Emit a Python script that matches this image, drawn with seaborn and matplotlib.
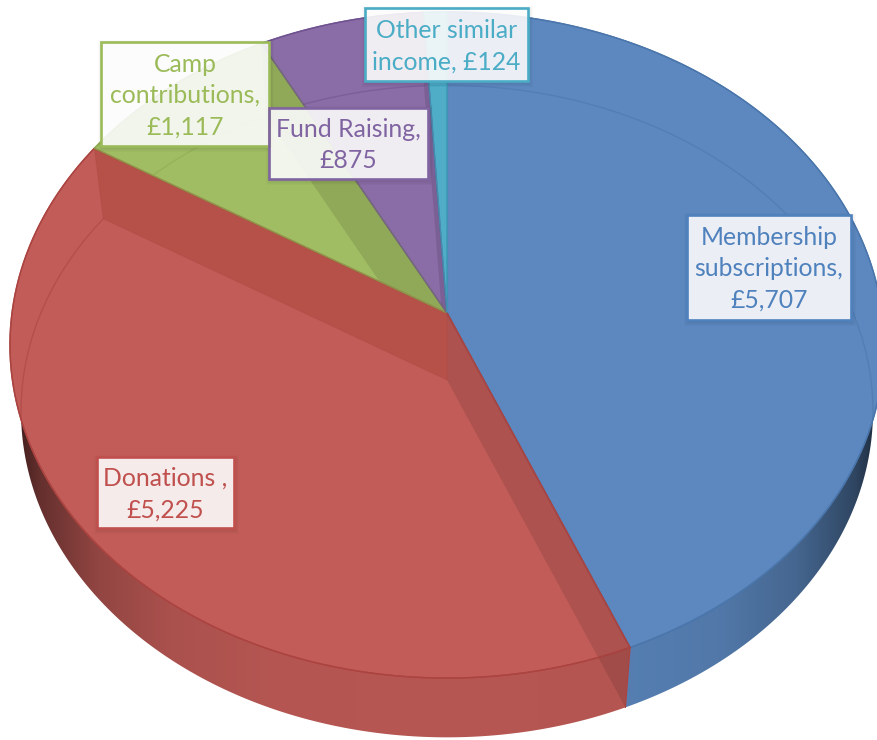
import numpy as np
import matplotlib
matplotlib.use("Agg")
import matplotlib.pyplot as plt
from matplotlib.patches import Polygon, Rectangle
from matplotlib.colors import to_rgb
import seaborn as sns

# data
categories = ["Membership subscriptions", "Donations", "Camp contributions", "Fund Raising", "Other similar income"]
values = [5707, 5225, 1117, 875, 124]
label_texts = ["Membership\nsubscriptions,\n£5,707", "Donations ,\n£5,225", "Camp\ncontributions,\n£1,117",
               "Fund Raising,\n£875", "Other similar\nincome, £124"]
colors = ["#5c88bf", "#c25c58", "#a0bd63", "#8a6ca6", "#4fadc8"]
edge_colors = ["#4a76ab", "#ab4441", "#8dab50", "#6f5290", "#3f9bb8"]
text_colors = ["#4f81bd", "#c0504d", "#9bbb59", "#8064a2", "#4bacc6"]


# top face and bottom face of the tilted disc
def project(theta, face="top"):
    u, v = np.sin(theta), np.cos(theta)
    w = 1 + 0.0961 * v
    if face == "top":
        return 447 + 435 * u / w, 313 - 330 * v / w
    return 447 + 424 * u / w, 380 - 323 * v / w


def arc(t0, t1, face="top", n=200):
    t = np.linspace(t0, t1, n)
    x, y = project(t, face)
    return np.column_stack([x, y])


def wall_shade(x):
    d = np.abs(x - 447) / 437
    return np.interp(d, [0, 0.4, 0.63, 0.8, 0.93, 1.0], [0.94, 0.93, 0.88, 0.75, 0.52, 0.27])


sns.set_theme(style="white")
plt.rcParams["font.family"] = ["Lato", "DejaVu Sans"]

fig = plt.figure(figsize=(8.78, 7.4), dpi=100)
ax = fig.add_axes([0, 0, 1, 1])

fractions = np.array(values) / sum(values)
edges = np.concatenate([[0], np.cumsum(fractions)]) * 2 * np.pi
apex_top = [447, 313]
apex_bottom = [447, 380]

# side wall with a horizontal gradient
xs = np.arange(0, 878) + 0.5
for i, col in enumerate(colors[:2]):
    grad = np.outer(wall_shade(xs), np.array(to_rgb(col)))[np.newaxis, :, :]
    img = ax.imshow(grad, extent=(0, 878, 740, 0), aspect="auto", zorder=1, interpolation="bilinear")
    wall = Polygon(np.vstack([arc(edges[i], edges[i + 1]), arc(edges[i], edges[i + 1], "bottom")[::-1]]),
                   closed=True, transform=ax.transData, facecolor="none", edgecolor="none")
    ax.add_patch(wall)
    img.set_clip_path(wall)

ax.set_xlim(0, 878)
ax.set_ylim(740, 0)
ax.axis("off")

# top faces
faces = []
for i, col in enumerate(colors):
    pts = np.vstack([[apex_top], arc(edges[i], edges[i + 1])])
    face = Polygon(pts, closed=True, facecolor=col, edgecolor=edge_colors[i], linewidth=1, zorder=2)
    ax.add_patch(face)
    faces.append(face)

# cut faces seen through the translucent slices
red_start = Polygon([apex_top, project(edges[1]), project(edges[1], "bottom"), apex_bottom], closed=True,
                    facecolor="#000000", alpha=0.1, edgecolor="none", zorder=3)
ax.add_patch(red_start)

for i in [2, 3]:
    quad = Polygon([apex_top, project(edges[i + 1]), project(edges[i + 1], "bottom"), apex_bottom], closed=True,
                   facecolor="#000000", alpha=0.1, edgecolor="none", zorder=3)
    ax.add_patch(quad)
    quad.set_clip_path(faces[i])

quad = Polygon([apex_top, project(edges[2]), project(edges[2], "bottom"), apex_bottom], closed=True,
               facecolor="#8a2a10", alpha=0.22, edgecolor="#a8423a", linewidth=0.8, zorder=3)
ax.add_patch(quad)
quad.set_clip_path(faces[1])

# wedge edges and the faint far rim
for i, col in enumerate(edge_colors):
    pts = arc(edges[i], edges[i + 1], "bottom")
    rim, = ax.plot(pts[:, 0], pts[:, 1], color=col, lw=1, alpha=0.55, zorder=4)
    rim.set_clip_path(faces[i])
    top = arc(edges[i], edges[i + 1])
    ax.plot(top[:, 0], top[:, 1], color=col, lw=1, alpha=0.9, zorder=4)
    for t in (edges[i], edges[i + 1]):
        x, y = project(t)
        ax.plot([447, x], [313, y], color=col, lw=0.8, alpha=0.7, zorder=4)
x0, y0 = project(edges[1])
x1, y1 = project(edges[1], "bottom")
ax.plot([x0, x1], [y0, y1], color=edge_colors[1], lw=1, zorder=4)
ax.plot([447, x0], [313, y0], color=edge_colors[1], lw=1, zorder=4)

# data labels
boxes = [(687, 215, 164, 105), (97, 457, 137, 71), (101, 42, 168, 104), (269, 108, 159, 71), (365, 8, 163, 73)]
for (x, y, w, h), txt, col in zip(boxes, label_texts, text_colors):
    for k in range(1, 6):
        ax.add_patch(Rectangle((x - k + 2, y - k + 3), w + 2 * k - 2, h + 2 * k - 2, facecolor="#000000",
                               alpha=0.018, edgecolor="none", zorder=5))
    ax.add_patch(Rectangle((x, y), w, h, facecolor="white", alpha=0.89, edgecolor="none", zorder=6))
    ax.add_patch(Rectangle((x, y), w, h, facecolor="none", edgecolor=col, linewidth=1.9, zorder=7))
    ax.text(x + w / 2, y + h / 2 + 1.5, txt, color=col, fontsize=17.8, ha="center", va="center",
            linespacing=1.43, zorder=8)

fig.savefig("out.png", dpi=100)
